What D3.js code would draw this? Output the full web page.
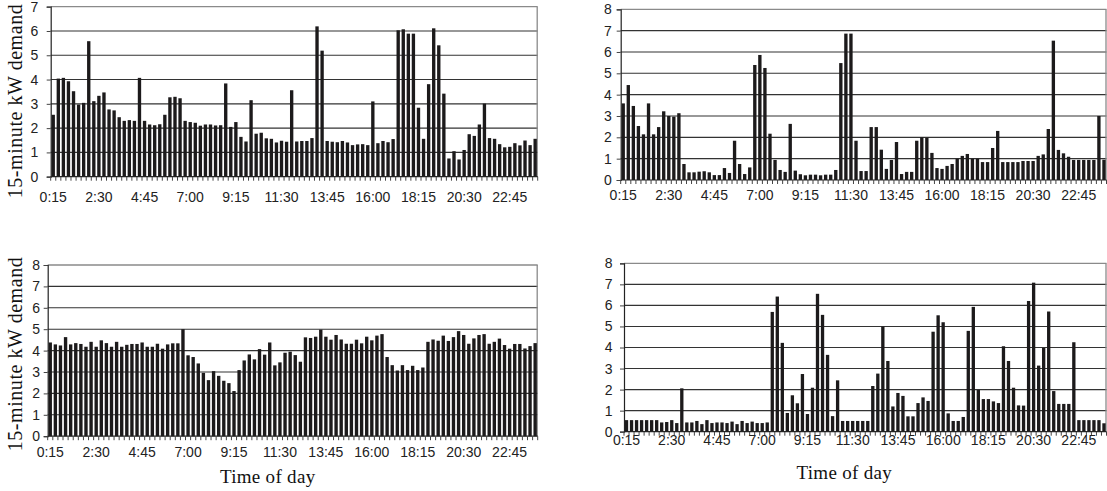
<!DOCTYPE html>
<html>
<head>
<meta charset="utf-8">
<script src="https://cdn.jsdelivr.net/npm/d3@7"></script>
<style>
  html, body { margin: 0; padding: 0; background: #fff; }
  svg { display: block; }
</style>
</head>
<body>
<svg id="chart" width="1107" height="491"></svg>
<script>
// ---- data ----
const categories = d3.range(96).map(i => {
  const m = (i + 1) * 15;
  return Math.floor(m / 60) + ":" + String(m % 60).padStart(2, "0");
});
const tickLabels = ["0:15","2:30","4:45","7:00","9:15","11:30","13:45","16:00","18:15","20:30","22:45"];

const demandA = [
  2.55, 4.04, 4.07, 3.93, 3.52, 2.97, 3.04, 5.58, 3.11, 3.33,
  3.47, 2.77, 2.73, 2.45, 2.30, 2.33, 2.30, 4.07, 2.30, 2.15,
  2.12, 2.16, 2.55, 3.27, 3.29, 3.23, 2.30, 2.25, 2.22, 2.10,
  2.15, 2.15, 2.11, 2.12, 3.84, 2.05, 2.25, 1.64, 1.45, 3.15,
  1.77, 1.81, 1.58, 1.56, 1.41, 1.48, 1.44, 3.56, 1.45, 1.47,
  1.47, 1.59, 6.19, 5.19, 1.47, 1.44, 1.42, 1.47, 1.41, 1.30,
  1.33, 1.34, 1.30, 3.10, 1.38, 1.47, 1.42, 1.55, 6.03, 6.07,
  5.89, 5.89, 2.84, 1.56, 3.81, 6.11, 5.41, 3.42, 0.75, 1.05,
  0.71, 1.10, 1.75, 1.68, 2.15, 3.01, 1.59, 1.56, 1.34, 1.21,
  1.23, 1.38, 1.29, 1.49, 1.30, 1.56
];
const demandB = [
  3.59, 4.45, 3.47, 2.53, 2.14, 3.59, 2.14, 2.48, 3.22, 3.00,
  2.97, 3.13, 0.75, 0.36, 0.36, 0.39, 0.41, 0.36, 0.23, 0.23,
  0.56, 0.33, 1.84, 0.75, 0.28, 0.59, 5.39, 5.86, 5.25, 2.17,
  0.94, 0.47, 0.38, 2.63, 0.44, 0.27, 0.22, 0.25, 0.25, 0.22,
  0.25, 0.25, 0.47, 5.48, 6.86, 6.86, 1.84, 0.42, 0.42, 2.48,
  2.48, 1.42, 0.52, 0.94, 1.78, 0.28, 0.38, 0.38, 1.84, 2.00,
  1.98, 1.27, 0.56, 0.52, 0.66, 0.75, 1.00, 1.13, 1.22, 1.00,
  1.00, 0.84, 0.84, 1.50, 2.30, 0.84, 0.84, 0.84, 0.84, 0.89,
  0.89, 0.89, 1.13, 1.20, 2.39, 6.53, 1.41, 1.25, 1.09, 0.94,
  0.94, 0.94, 0.94, 0.94, 3.00, 0.95
];
const demandC = [
  4.38, 4.29, 4.24, 4.63, 4.29, 4.35, 4.31, 4.18, 4.41, 4.18,
  4.48, 4.35, 4.18, 4.41, 4.18, 4.27, 4.31, 4.31, 4.38, 4.18,
  4.18, 4.32, 4.09, 4.29, 4.34, 4.34, 5.00, 3.78, 3.70, 3.40,
  2.96, 2.62, 3.04, 2.82, 2.59, 2.48, 2.11, 3.09, 3.54, 3.82,
  3.59, 4.07, 3.81, 4.38, 3.31, 3.45, 3.90, 3.95, 3.79, 3.48,
  4.62, 4.59, 4.65, 4.98, 4.65, 4.51, 4.73, 4.52, 4.32, 4.32,
  4.51, 4.34, 4.65, 4.48, 4.70, 4.77, 3.70, 3.32, 3.07, 3.32,
  3.09, 3.29, 3.09, 3.21, 4.41, 4.52, 4.46, 4.70, 4.45, 4.63,
  4.91, 4.73, 4.32, 4.57, 4.73, 4.77, 4.32, 4.41, 4.56, 4.26,
  4.09, 4.31, 4.31, 4.10, 4.21, 4.35
];
const demandD = [
  0.55, 0.55, 0.55, 0.55, 0.55, 0.55, 0.55, 0.44, 0.46, 0.55,
  0.41, 2.06, 0.44, 0.44, 0.51, 0.36, 0.55, 0.41, 0.44, 0.44,
  0.41, 0.48, 0.36, 0.51, 0.41, 0.48, 0.41, 0.41, 0.44, 5.69,
  6.42, 4.22, 0.89, 1.73, 1.35, 2.74, 0.84, 2.09, 6.55, 5.55,
  3.65, 0.74, 2.44, 0.51, 0.51, 0.51, 0.51, 0.51, 0.51, 2.17,
  2.76, 4.99, 3.36, 1.20, 1.84, 1.70, 0.73, 0.73, 1.36, 1.63,
  1.46, 4.75, 5.53, 5.20, 0.87, 0.51, 0.51, 0.70, 4.79, 5.93,
  1.98, 1.55, 1.55, 1.44, 1.36, 4.06, 3.36, 2.09, 1.25, 1.24,
  6.21, 7.08, 3.14, 3.98, 5.71, 1.93, 1.32, 1.32, 1.32, 4.25,
  0.55, 0.55, 0.55, 0.55, 0.55, 0.40
];
const yMaxes = [7, 8, 8, 8];
const yTitle = "15-minute kW demand";
const xTitle = "Time of day";

// ---- layout ----
const panels = [
  { data: demandA, ymax: yMaxes[0], left: 50.7, right: 537.7, top: 6.7, bottom: 176.7, yPad: 8.5, xPad: 15, yTitleY: 101, xTitle: false },
  { data: demandB, ymax: yMaxes[1], left: 620.7, right: 1106.5, top: 9.3, bottom: 180, yPad: 5, xPad: 10.5, yTitleY: null, xTitle: false },
  { data: demandC, ymax: yMaxes[2], left: 47.7, right: 537.7, top: 265, bottom: 436.2, yPad: 3.7, xPad: 10.5, yTitleY: 354, xTitle: true },
  { data: demandD, ymax: yMaxes[3], left: 624, right: 1106.5, top: 263.3, bottom: 431.7, yPad: 7.5, xPad: 3.8, yTitleY: null, xTitle: true }
];

const svg = d3.select("#chart");
const tickFont = "'Liberation Sans', Arial, sans-serif";
const titleFont = "'Liberation Serif', 'Times New Roman', serif";

panels.forEach(p => {
  const g = svg.append("g");
  const x = d3.scaleBand().domain(categories).range([p.left, p.right])
    .paddingInner(0.34).paddingOuter(0.17);
  const y = d3.scaleLinear().domain([0, p.ymax]).range([p.bottom, p.top]);
  const step = x.step();

  // gridlines
  g.append("g").selectAll("line").data(d3.range(1, p.ymax))
    .join("line")
    .attr("x1", p.left).attr("x2", p.right)
    .attr("y1", d => y(d)).attr("y2", d => y(d))
    .attr("stroke", "#333").attr("stroke-width", 1.1);
  // top & right border
  g.append("line").attr("x1", p.left).attr("x2", p.right)
    .attr("y1", y(p.ymax)).attr("y2", y(p.ymax))
    .attr("stroke", "#8a8a8a").attr("stroke-width", 1.3);
  g.append("line").attr("x1", p.right - 0.5).attr("x2", p.right - 0.5)
    .attr("y1", y(p.ymax)).attr("y2", y(0))
    .attr("stroke", "#8a8a8a").attr("stroke-width", 1.3);

  // bars
  g.append("g").selectAll("rect").data(p.data)
    .join("rect")
    .attr("x", (d, i) => x(categories[i]))
    .attr("width", x.bandwidth())
    .attr("y", d => y(d))
    .attr("height", d => y(0) - y(d))
    .attr("fill", "#1c1a1b");

  // y axis
  const ya = g.append("g").attr("transform", `translate(${p.left},0)`)
    .call(d3.axisLeft(y).tickValues(d3.range(0, p.ymax + 1)).tickSize(4).tickPadding(p.yPad).tickFormat(d3.format("d")));
  ya.select(".domain").attr("stroke", "#222").attr("stroke-width", 1.2);
  ya.selectAll(".tick line").attr("stroke", "#444");
  ya.selectAll("text").attr("font-family", tickFont).attr("font-size", 14).attr("fill", "#222");

  // x axis: boundary ticks
  const xb = g.append("g").attr("transform", `translate(0,${p.bottom})`);
  xb.append("line").attr("x1", p.left).attr("x2", p.right).attr("y1", 0).attr("y2", 0)
    .attr("stroke", "#222").attr("stroke-width", 1.2);
  xb.selectAll("line.bt").data(d3.range(0, categories.length + 1))
    .join("line").attr("class", "bt")
    .attr("x1", i => p.left + i * step).attr("x2", i => p.left + i * step)
    .attr("y1", 0).attr("y2", 4)
    .attr("stroke", "#444").attr("stroke-width", 1);
  // x labels
  const xa = g.append("g").attr("transform", `translate(0,${p.bottom})`)
    .call(d3.axisBottom(x).tickValues(tickLabels).tickSize(0).tickPadding(p.xPad));
  xa.select(".domain").remove();
  xa.selectAll("text").attr("font-family", tickFont).attr("font-size", 14).attr("fill", "#222");

  if (p.yTitleY !== null) {
    g.append("text")
      .attr("transform", `translate(22,${p.yTitleY}) rotate(-90)`)
      .attr("text-anchor", "middle")
      .attr("font-family", titleFont).attr("font-size", 20)
      .attr("letter-spacing", 0.55).attr("fill", "#111")
      .text(yTitle);
  }
  if (p.xTitle) {
    g.append("text")
      .attr("x", p.left < 300 ? (p.left + p.right) / 2 - 25 : (p.left + p.right) / 2 - 21)
      .attr("y", p.bottom + 47)
      .attr("text-anchor", "middle")
      .attr("font-family", titleFont).attr("font-size", 19)
      .attr("letter-spacing", 0.3).attr("fill", "#111")
      .text(xTitle);
  }
});
</script>
</body>
</html>
